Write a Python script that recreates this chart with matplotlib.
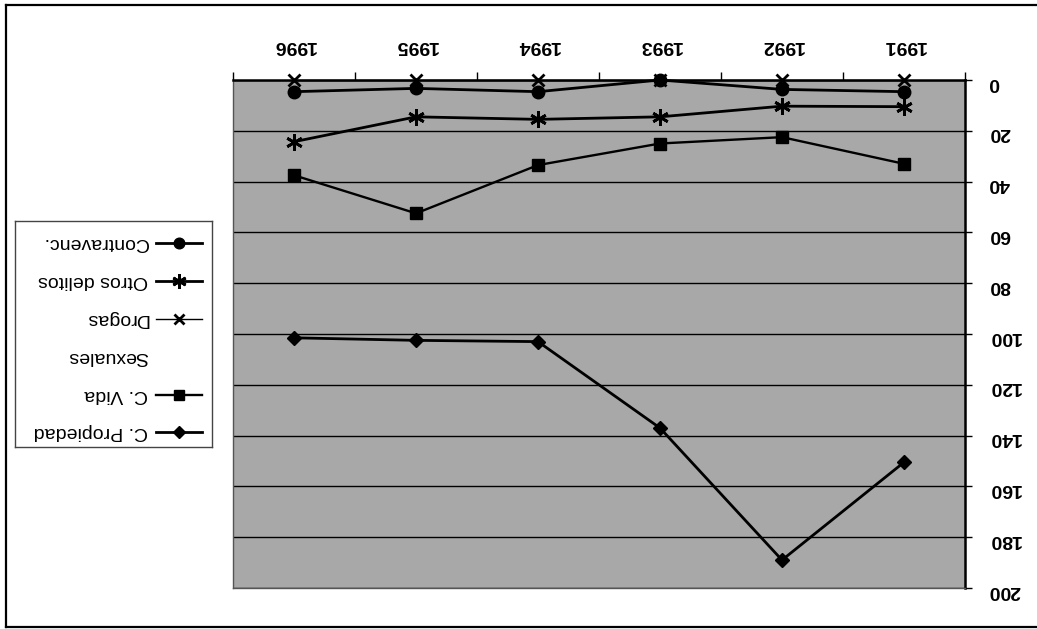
"""
Chart reproduced upside down (scanned page was rotated 180 degrees).
"""

import numpy as np
import matplotlib.pyplot as plt
from matplotlib.lines import Line2D
from matplotlib.ticker import FixedLocator

plt.rcParams['font.family'] = ['Liberation Sans', 'DejaVu Sans']

years = ['1991', '1992', '1993', '1994', '1995', '1996']
propiedad = [150.5, 189, 137, 103, 102.5, 101.5]
vida = [33, 22.5, 25, 33.5, 52.5, 37.5]
sexuales = [0, 0, 0, 0, 0, 0]
drogas = [0, 0, 0, 0, 0, 0]
otros = [10.5, 10.3, 14.5, 15.5, 14.5, 24.3]
contravenc = [4.6, 3.7, 0, 4.6, 3.3, 4.6]
names = ['C. Propiedad', 'C. Vida', 'Sexuales', 'Drogas', 'Otros delitos', 'Contravenc.']

W, H = 1037, 629
fig = plt.figure(figsize=(W / 100, H / 100), dpi=100)

# plot area in pixel terms
x0, x1, y0, y1 = 233, 965, 80, 588
ax = fig.add_axes([x0 / W, 1 - y1 / H, (x1 - x0) / W, (y1 - y0) / H])
ax.set_facecolor('#a8a8a8')

x = np.arange(len(years))
series = [
    (propiedad, dict(marker='D', ms=7, lw=2.0)),
    (vida, dict(marker='s', ms=8, lw=1.7)),
    (sexuales, dict(marker='None', lw=0)),
    (drogas, dict(marker='x', ms=9, mew=2, lw=1.0)),
    (otros, dict(marker=(6, 2, 0), ms=12, mew=2, lw=2.0)),
    (contravenc, dict(marker='o', ms=9, lw=2.0)),
]
for vals, kw in series:
    ax.plot(x, vals, color='black', clip_on=False, zorder=3, **kw)

ax.set_xlim(-0.5, len(years) - 0.5)
ax.set_ylim(0, 200)
ax.invert_xaxis()
ax.invert_yaxis()

# value axis on the (screen) right
ax.yaxis.tick_right()
ax.set_yticks(np.arange(0, 201, 20))
ax.tick_params(axis='y', direction='out', length=5, width=1, pad=12,
               labelsize=14, labelrotation=180)
for lab in ax.get_yticklabels():
    lab.set_fontweight('bold')
ax.grid(axis='y', color='black', lw=1.0)
ax.set_axisbelow(True)

# category axis on the (screen) top
ax.xaxis.tick_top()
ax.set_xticks(x)
ax.set_xticklabels(years, fontsize=14, fontweight='bold', rotation=180)
ax.tick_params(axis='x', which='major', length=0, pad=19)
ax.xaxis.set_minor_locator(FixedLocator(np.arange(-0.5, len(years), 1.0)))
ax.tick_params(axis='x', which='minor', direction='out', length=6, width=1,
               top=True, bottom=False)

for side in ['top', 'right']:
    ax.spines[side].set_color('black')
    ax.spines[side].set_linewidth(1.8)
for side in ['left', 'bottom']:
    ax.spines[side].set_color('#555555')
    ax.spines[side].set_linewidth(1.0)
    ax.spines[side].set_linestyle((0, (2, 1)))

# legend drawn by hand so its text can be upside down
lx0, lx1, ly0, ly1 = 15, 212, 221, 447
lax = fig.add_axes([lx0 / W, 1 - ly1 / H, (lx1 - lx0) / W, (ly1 - ly0) / H])
lax.set_xlim(lx0, lx1)
lax.set_ylim(ly1, ly0)
lax.set_xticks([])
lax.set_yticks([])
for s in lax.spines.values():
    s.set_color('#444444')
    s.set_linewidth(1.0)

rows = [432, 395, 357, 319, 281, 243]
for (vals, kw), name, ry in zip(series, names, rows):
    lkw = dict(kw)
    lkw['ms'] = kw.get('ms', 0) * 0.85
    lax.add_line(Line2D([156, 179, 202], [ry, ry, ry], color='black',
                        markevery=[1], **lkw))
    lax.text(148, ry, name, rotation=180, ha='right', va='center', fontsize=14)

# page frame
frame = dict(color='black', lw=1.6, transform=fig.transFigure)
fig.add_artist(Line2D([6 / W, 6 / W], [1 - 5 / H, 1 - 627 / H], **frame))
fig.add_artist(Line2D([6 / W, 1], [1 - 5 / H, 1 - 5 / H], **frame))
fig.add_artist(Line2D([6 / W, 1], [1 - 627 / H, 1 - 627 / H], **frame))

fig.savefig('out.png', dpi=100)
